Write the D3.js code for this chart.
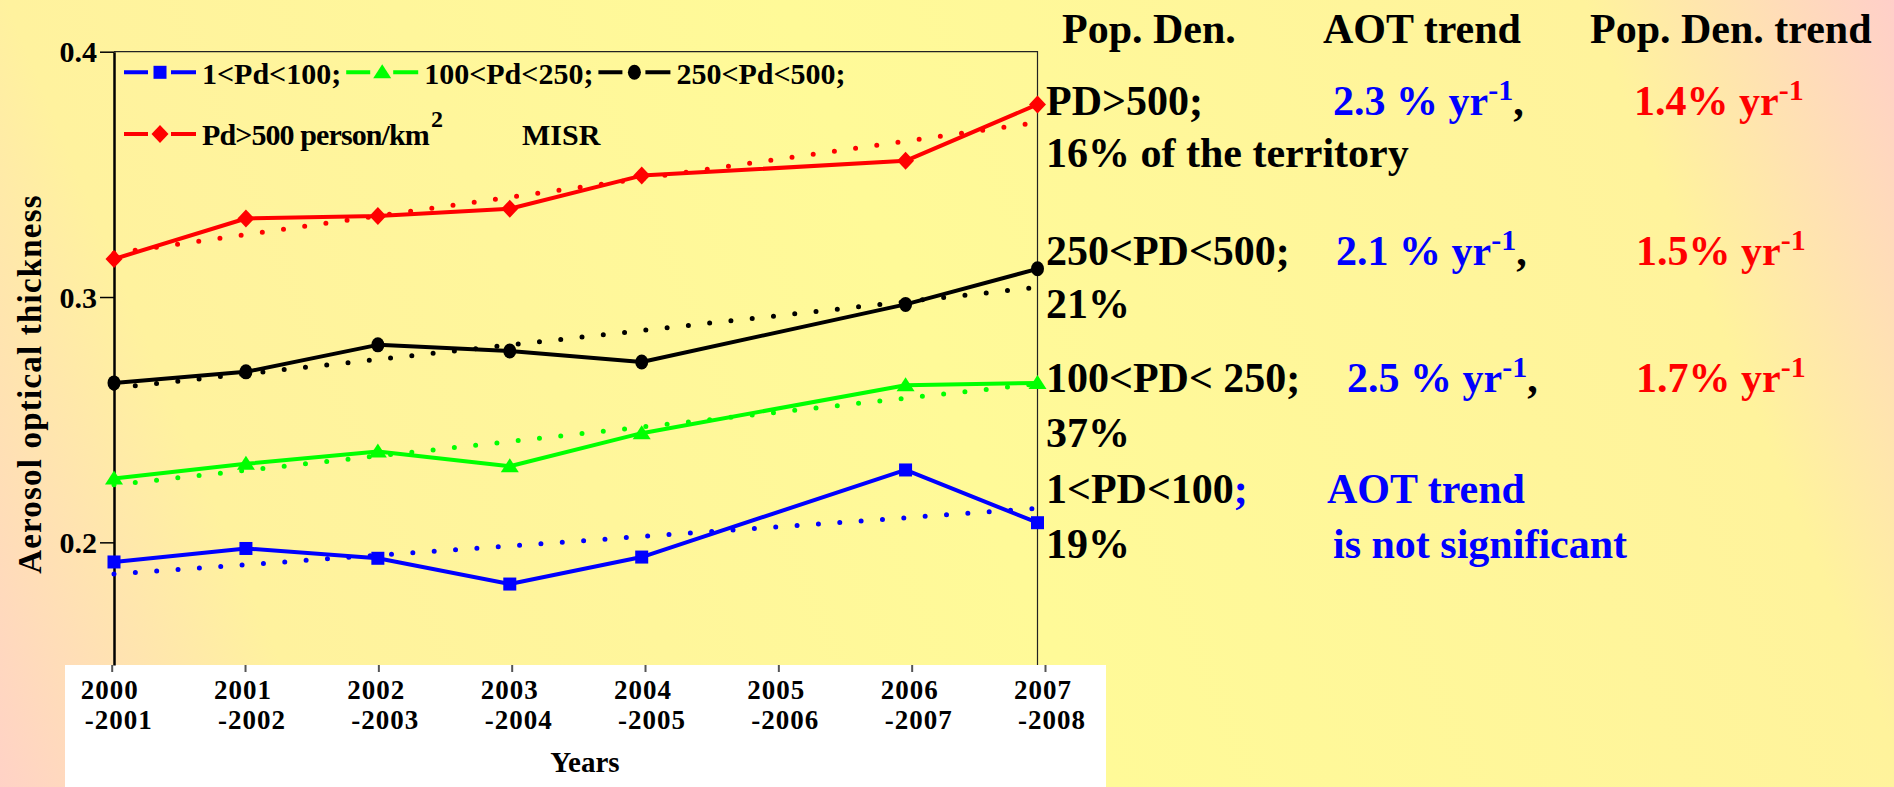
<!DOCTYPE html>
<html>
<head>
<meta charset="utf-8">
<script src="https://cdn.jsdelivr.net/npm/d3@7"></script>
<style>
  html, body { margin: 0; padding: 0; overflow: hidden; background: #fff; }
  svg text { font-family: "Liberation Serif", "Times New Roman", serif; font-weight: bold; }
</style>
</head>
<body>
<div id="chart"></div>
<script>
var W = 1894, H = 787;

// x tick labels (two lines each)
var tickYears = [2000, 2001, 2002, 2003, 2004, 2005, 2006, 2007];
var tickTop = ["2000", "2001", "2002", "2003", "2004", "2005", "2006", "2007"];
var tickBottom = ["-2001", "-2002", "-2003", "-2004", "-2005", "-2006", "-2007", "-2008"];
var yTicks = [0.2, 0.3, 0.4];

// MISR AOT per population-density class (no 2005-2006 value)
var years = [2000, 2001, 2002, 2003, 2004, 2006, 2007];
var pd1_100 = [0.192, 0.1975, 0.1935, 0.183, 0.194, 0.2295, 0.208];
var pd100_250 = [0.226, 0.232, 0.237, 0.231, 0.2445, 0.264, 0.265];
var pd250_500 = [0.265, 0.2695, 0.2805, 0.278, 0.2735, 0.297, 0.3115];
var pd500 = [0.3155, 0.332, 0.333, 0.336, 0.3495, 0.3555, 0.3785];

var seriesNames = ["1<Pd<100;", "100<Pd<250;", "250<Pd<500;", "Pd>500 person/km"];
var seriesValues = [pd1_100, pd100_250, pd250_500, pd500];
var seriesColors = ["#0000ff", "#00ff00", "#000000", "#ff0000"];
var seriesShapes = ["square", "triangle", "circle", "diamond"];

// right-hand table
var tableHeaders = ["Pop. Den.", "AOT trend", "Pop. Den. trend"];
var densityClasses = ["PD>500;", "250<PD<500;", "100<PD< 250;", "1<PD<100"];
var territoryShares = ["16% of the territory", "21%", "37%", "19%"];
var aotTrends = ["2.3 % yr", "2.1 % yr", "2.5 % yr"];
var popTrends = ["1.4% yr", "1.5% yr", "1.7% yr"];

var svg = d3.select("#chart").append("svg").attr("width", W).attr("height", H);

// background gradient
var grad = svg.append("defs").append("linearGradient")
  .attr("id", "bg").attr("gradientUnits", "userSpaceOnUse")
  .attr("x1", 0).attr("y1", H).attr("x2", W).attr("y2", 0);
[[0, "#ffd2c6"], [0.15, "#fff29e"], [0.5, "#fffa98"], [0.86, "#fff39c"], [1, "#ffcfc9"]].forEach(function (s) {
  grad.append("stop").attr("offset", s[0]).attr("stop-color", s[1]);
});
svg.append("rect").attr("width", W).attr("height", H).attr("fill", "url(#bg)");

var x = d3.scaleLinear().domain([2000, 2007]).range([114, 1037.5]);
var xTick = d3.scaleLinear().domain([2000, 2007]).range([111.7, 1045]);
var y = d3.scaleLinear().domain([0.15, 0.4]).range([665, 51.7]);

// white strip holding the x labels
svg.append("rect").attr("x", 65).attr("y", 665).attr("width", 1041).attr("height", H - 665).attr("fill", "#fff");

// frame top + right
svg.append("path")
  .attr("d", "M" + x(2000) + "," + y(0.4) + "H" + x(2007) + "V" + y(0.15))
  .attr("fill", "none").attr("stroke", "#222").attr("stroke-width", 1.2);

// y axis
var yAxis = svg.append("g").attr("transform", "translate(" + x(2000) + ",0)")
  .call(d3.axisLeft(y).tickValues(yTicks).tickFormat(d3.format(".1f")).tickSize(14).tickSizeOuter(0).tickPadding(3));
yAxis.attr("font-size", 30);
yAxis.select(".domain").attr("stroke", "#000").attr("stroke-width", 2.5);
yAxis.selectAll(".tick line").attr("stroke", "#000").attr("stroke-width", 1.5);
yAxis.selectAll(".tick text").attr("fill", "#000").attr("dy", "0.34em");

// x axis ticks on the white strip
var xAxis = svg.append("g").attr("transform", "translate(0,665)")
  .call(d3.axisBottom(xTick).tickValues(tickYears).tickSize(7).tickFormat(""));
xAxis.select(".domain").remove();
xAxis.selectAll(".tick line").attr("stroke", "#555").attr("stroke-width", 2);

var xl = svg.append("g").attr("font-size", 27).attr("text-anchor", "middle").attr("fill", "#000");
tickYears.forEach(function (yr, i) {
  var lab = xl.append("text").attr("y", 699);
  lab.append("tspan").attr("x", xTick(yr) - 2).attr("letter-spacing", 1).text(tickTop[i]);
  lab.append("tspan").attr("x", xTick(yr) + 7).attr("dy", 30).attr("letter-spacing", 1).text(tickBottom[i]);
});
svg.append("text").attr("x", 585).attr("y", 772).attr("text-anchor", "middle")
  .attr("font-size", 29).text("Years");

svg.append("text").attr("transform", "translate(41,384) rotate(-90)")
  .attr("text-anchor", "middle").attr("font-size", 33).attr("letter-spacing", 1.2)
  .text("Aerosol optical thickness");

// markers
function marker(g, shape, color, cx, cy) {
  if (shape === "square") {
    g.append("rect").attr("x", cx - 6.5).attr("y", cy - 6.5).attr("width", 13).attr("height", 13).attr("fill", color);
  } else if (shape === "triangle") {
    g.append("path").attr("d", "M" + cx + "," + (cy - 8) + "L" + (cx + 9) + "," + (cy + 6) + "L" + (cx - 9) + "," + (cy + 6) + "Z").attr("fill", color);
  } else if (shape === "circle") {
    g.append("ellipse").attr("cx", cx).attr("cy", cy).attr("rx", 6.5).attr("ry", 7.5).attr("fill", color);
  } else {
    g.append("path").attr("d", "M" + cx + "," + (cy - 9) + "L" + (cx + 8.5) + "," + cy + "L" + cx + "," + (cy + 9) + "L" + (cx - 8.5) + "," + cy + "Z").attr("fill", color);
  }
}

// least-squares trend of each series
function trend(vals) {
  var mx = d3.mean(years), my = d3.mean(vals);
  var sxy = d3.sum(years, function (t, i) { return (t - mx) * (vals[i] - my); });
  var sxx = d3.sum(years, function (t) { return (t - mx) * (t - mx); });
  var b = sxy / sxx, a = my - b * mx;
  return [[2000, a + b * 2000], [2007, a + b * 2007]];
}

var line = d3.line().x(function (d, i) { return x(years[i]); }).y(function (d) { return y(d); });
var tline = d3.line().x(function (d) { return x(d[0]); }).y(function (d) { return y(d[1]); });

var plot = svg.append("g");
seriesValues.forEach(function (vals, k) {
  plot.append("path").attr("d", tline(trend(vals)))
    .attr("fill", "none").attr("stroke", seriesColors[k]).attr("stroke-width", 5)
    .attr("stroke-linecap", "round").attr("stroke-dasharray", "0 21.4");
});
seriesValues.forEach(function (vals, k) {
  plot.append("path").attr("d", line(vals))
    .attr("fill", "none").attr("stroke", seriesColors[k]).attr("stroke-width", 4)
    .attr("stroke-linejoin", "round");
  vals.forEach(function (v, i) { marker(plot, seriesShapes[k], seriesColors[k], x(years[i]), y(v)); });
});

// legend
var leg = svg.append("g").attr("font-size", 30);
function legendItem(k, x0, cy, base) {
  leg.append("path").attr("d", "M" + x0 + "," + cy + "h24M" + (x0 + 47) + "," + cy + "h25")
    .attr("stroke", seriesColors[k]).attr("stroke-width", 4);
  marker(leg, seriesShapes[k], seriesColors[k], x0 + 36, cy);
  return leg.append("text").attr("x", x0 + 78).attr("y", base).text(seriesNames[k]);
}
var lx = 124;
for (var k = 0; k < 3; k++) {
  var t = legendItem(k, lx, 72.3, 84);
  lx = lx + 78 + t.node().getComputedTextLength() + 5;
}
var t4 = legendItem(3, 124, 134, 145).attr("letter-spacing", -0.9);
t4.append("tspan").attr("font-size", 24).attr("dy", -18).attr("dx", 2).text("2");
leg.append("text").attr("x", 522).attr("y", 145).text("MISR");

// right-hand table
var tb = svg.append("g").attr("font-size", 42).attr("fill", "#000");
[1062, 1323, 1590].forEach(function (hx, i) {
  tb.append("text").attr("x", hx).attr("y", 43.3).text(tableHeaders[i]);
});
var rowBase = [115, 265, 391.7, 503.3];
var shareBase = [166.7, 318.3, 446.7, 558.3];
var aotX = [1333, 1336, 1347];
var popX = [1634, 1636, 1636];
densityClasses.forEach(function (c, i) {
  var tx = tb.append("text").attr("x", 1046).attr("y", rowBase[i]).text(c);
  if (i === 3) tx.append("tspan").attr("fill", "#0000ff").text(";");
  tb.append("text").attr("x", 1046).attr("y", shareBase[i]).text(territoryShares[i]);
  if (i < 3) {
    var a = tb.append("text").attr("x", aotX[i]).attr("y", rowBase[i]).attr("fill", "#0000ff").text(aotTrends[i]);
    a.append("tspan").attr("font-size", 30).attr("dy", -15).text("-1");
    a.append("tspan").attr("dy", 15).attr("fill", "#000").text(",");
    var p = tb.append("text").attr("x", popX[i]).attr("y", rowBase[i]).attr("fill", "#ff0000").text(popTrends[i]);
    p.append("tspan").attr("font-size", 30).attr("dy", -15).text("-1");
  }
});
tb.append("text").attr("x", 1327).attr("y", rowBase[3]).attr("fill", "#0000ff").text("AOT trend");
tb.append("text").attr("x", 1333).attr("y", shareBase[3]).attr("fill", "#0000ff").text("is not significant");
</script>
</body>
</html>
